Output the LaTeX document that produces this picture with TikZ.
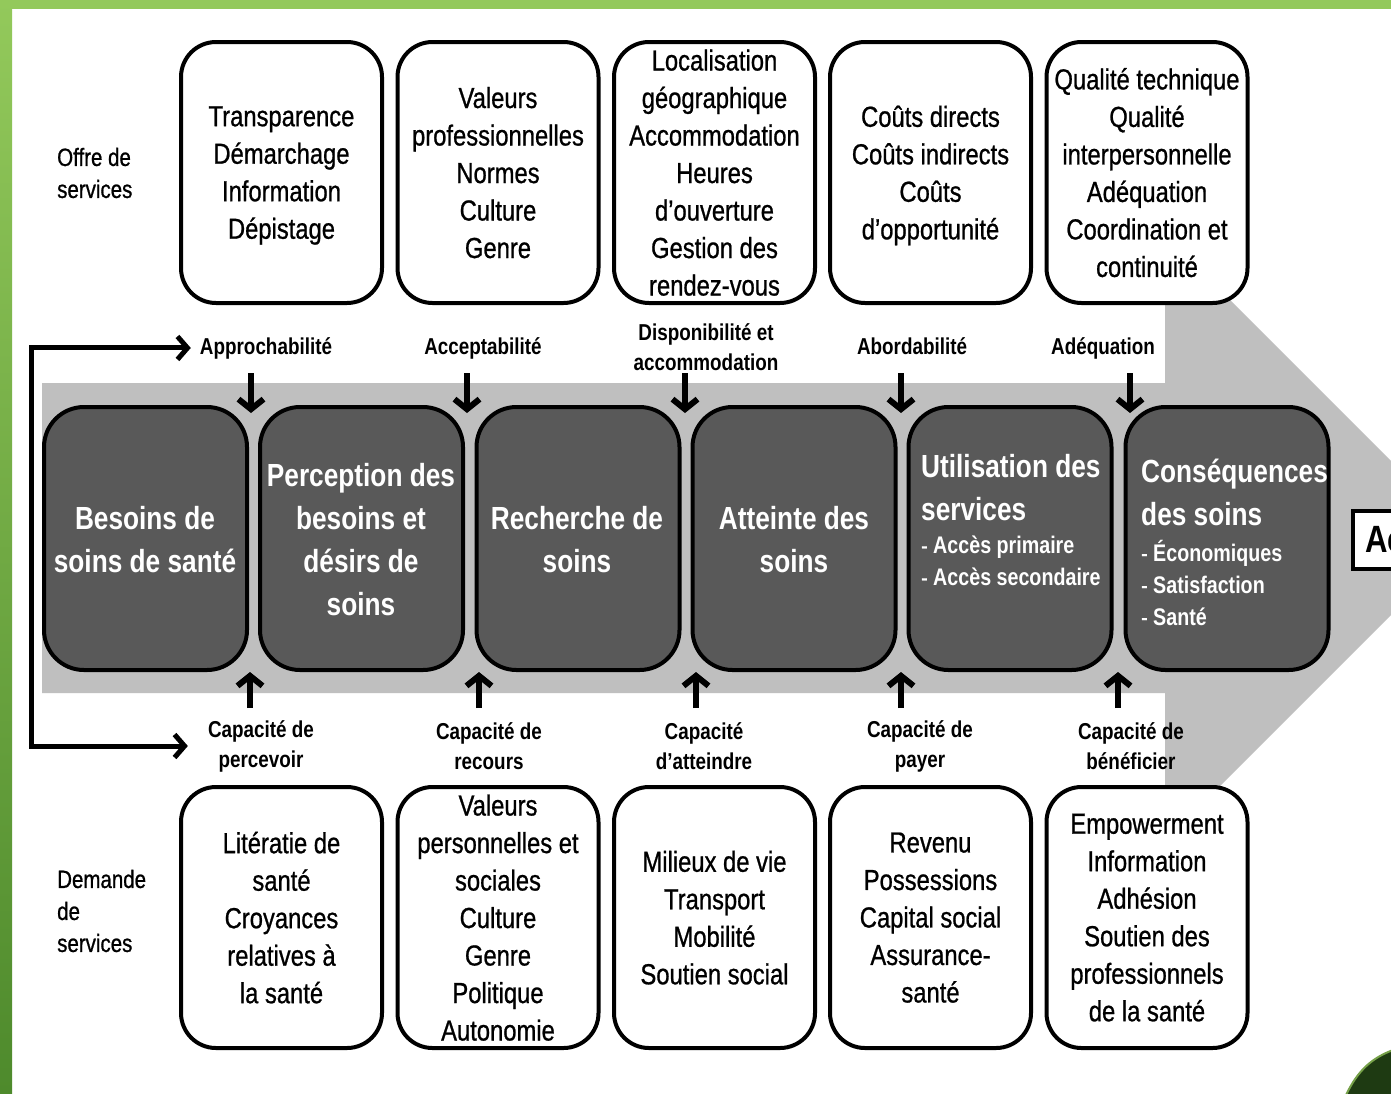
\documentclass[tikz,border=0pt]{standalone}
\usepackage{fontspec}
\setmainfont{Liberation Sans}[FakeStretch=0.82, UprightFeatures={FakeBold=0.8}]
\usetikzlibrary{arrows.meta}
\definecolor{stggray}{HTML}{595959}
\definecolor{bandgray}{HTML}{BFBFBF}
\definecolor{greenlight}{HTML}{93C95B}
\definecolor{greendark}{HTML}{4E8A2C}
\definecolor{greendeep}{HTML}{1E3A12}
\newcommand\boxfont{\fontsize{29}{37.5}\selectfont}
\newcommand\stgfont{\fontsize{32}{43}\selectfont\bfseries}
\newcommand\itemfont{\fontsize{24}{32}\selectfont\bfseries}
\newcommand\labfont{\fontsize{23}{30}\selectfont\bfseries}
\newcommand\sidefont{\fontsize{25}{32}\selectfont}
\begin{document}
\begin{tikzpicture}[x=1pt, y=-1pt,
  offbox/.style={draw, line width=4pt, rounded corners=35pt, fill=white, minimum width=201pt, minimum height=261pt, align=center, font=\boxfont, inner sep=0pt, text depth=0pt},
  stgbox/.style={draw, line width=4pt, rounded corners=40pt, fill=stggray, minimum width=203pt, minimum height=263pt},
  stgtext/.style={text=white, font=\stgfont, align=center, inner sep=0pt},
  stgitem/.style={text=white, font=\itemfont, align=left, inner sep=0pt, anchor=west},
  lab/.style={font=\labfont, align=center, inner sep=0pt},
  side/.style={font=\sidefont, align=left, inner sep=0pt, anchor=west},
  darr/.style={line width=6pt, -{Straight Barb[length=10pt, width=25pt]}},
  farr/.style={line width=5pt, -{Straight Barb[length=10pt, width=23pt]}}]
\useasboundingbox (0,0) rectangle (1391,1093);
\clip (0,0) rectangle (1391,1093);
\fill[white] (0,0) rectangle (1391,1093);
% green frame
\fill[greenlight] (0,0) rectangle (1391,9);
\shade[top color=greenlight, bottom color=greendark] (0,0) rectangle (12,1093);
\fill[greendeep, draw=greenlight!80!black, line width=2pt] (1346,1095) .. controls (1358,1070) and (1372,1058) .. (1393,1050) -- (1393,1095) -- cycle;
% band
\fill[bandgray] (42,383) -- (1165,383) -- (1165,235) -- (1468,538) -- (1165,841) -- (1165,693) -- (42,693) -- cycle;
\node[draw, line width=4pt, fill=white, anchor=west, minimum height=58pt, inner xsep=12pt, font=\fontsize{38}{40}\selectfont\bfseries] (acc) at (1351,540) {Ac};
% stages
\node[stgbox] (stg1) at (145.5,538.5){};
\node[stgbox] (stg2) at (361.5,538.5){};
\node[stgbox] (stg3) at (578,538.5){};
\node[stgbox] (stg4) at (794,538.5){};
\node[stgbox] (stg5) at (1010,538.5){};
\node[stgbox] (stg6) at (1227,538.5){};
\node[stgtext] (stg1t) at (145,540){Besoins de\\soins de santé};
\node[stgtext] (stg2t) at (361,540){Perception des\\besoins et\\désirs de\\soins};
\node[stgtext] (stg3t) at (577,540){Recherche de\\soins};
\node[stgtext] (stg4t) at (794,540){Atteinte des\\soins};
\node[stgtext, align=left, anchor=west] (stg5t) at (921,487.5){Utilisation des\\services};
\node[stgitem] (stg5i) at (921,561){{\mdseries -} Accès primaire\\{\mdseries -} Accès secondaire};
\node[stgtext, align=left, anchor=west] (stg6t) at (1141,492.5){Conséquences\\des soins};
\node[stgitem] (stg6i) at (1141,583){{\mdseries -} Économiques\\{\mdseries -} Satisfaction\\{\mdseries -} Santé};
% supply side
\node[offbox] (off1) at (281.5,172.5){Transparence\\Démarchage\\Information\\Dépistage};
\node[offbox] (off2) at (498,172.5){Valeurs\\professionnelles\\Normes\\Culture\\Genre};
\node[offbox] (off3) at (714.5,172.5){Localisation\\géographique\\Accommodation\\Heures\\d’ouverture\\Gestion des\\rendez-vous};
\node[offbox] (off4) at (930.5,172.5){Coûts directs\\Coûts indirects\\Coûts\\d’opportunité};
\node[offbox] (off5) at (1147,172.5){Qualité technique\\Qualité\\interpersonnelle\\Adéquation\\Coordination et\\continuité};
% demand side
\node[offbox] (dem1) at (281.5,917.5){Litératie de\\santé\\Croyances\\relatives à\\la santé};
\node[offbox] (dem2) at (498,917.5){Valeurs\\personnelles et\\sociales\\Culture\\Genre\\Politique\\Autonomie};
\node[offbox] (dem3) at (714.5,917.5){Milieux de vie\\Transport\\Mobilité\\Soutien social};
\node[offbox] (dem4) at (930.5,917.5){Revenu\\Possessions\\Capital social\\Assurance-\\santé};
\node[offbox] (dem5) at (1147,917.5){Empowerment\\Information\\Adhésion\\Soutien des\\professionnels\\de la santé};
\node[side] (offl) at (57,173){Offre de\\services};
\node[side] (deml) at (57,911){Demande\\de\\services};
% dimensions
\node[lab, anchor=base] (lab1) at (266,354){Approchabilité};
\node[lab, anchor=base] (lab2) at (483,354){Acceptabilité};
\node[lab] (lab3) at (706,347){Disponibilité et\\accommodation};
\node[lab, anchor=base] (lab4) at (912,354){Abordabilité};
\node[lab, anchor=base] (lab5) at (1103,354){Adéquation};
\node[lab] (blab1) at (261,746){Capacité de\\percevoir};
\node[lab] (blab2) at (489,746){Capacité de\\recours};
\node[lab] (blab3) at (704,746){Capacité\\d’atteindre};
\node[lab] (blab4) at (920,746){Capacité de\\payer};
\node[lab] (blab5) at (1131,746){Capacité de\\bénéficier};
\coordinate (dn1) at (251,373);
\coordinate (dn2) at (467,373);
\coordinate (dn3) at (685,373);
\coordinate (dn4) at (901,373);
\coordinate (dn5) at (1130,373);
\draw[darr, shorten >=-8pt] (dn1) -- (dn1 |- stg1.north);
\draw[darr, shorten >=-8pt] (dn2) -- (dn2 |- stg2.north);
\draw[darr, shorten >=-8pt] (dn3) -- (dn3 |- stg3.north);
\draw[darr, shorten >=-8pt] (dn4) -- (dn4 |- stg4.north);
\draw[darr, shorten >=-8pt] (dn5) -- (dn5 |- stg5.north);
\coordinate (up1) at (250,708);
\coordinate (up2) at (479,708);
\coordinate (up3) at (696,708);
\coordinate (up4) at (901,708);
\coordinate (up5) at (1118,708);
\draw[darr] (up1) -- (up1 |- stg1.south);
\draw[darr] (up2) -- (up2 |- stg2.south);
\draw[darr] (up3) -- (up3 |- stg3.south);
\draw[darr] (up4) -- (up4 |- stg4.south);
\draw[darr] (up5) -- (up5 |- stg5.south);
% feedback
\coordinate (fbm) at (31,546);
\draw[farr, shorten >=9pt] (fbm) |- (lab1.west);
\draw[farr, shorten >=20pt] (fbm) |- (blab1.west);
\end{tikzpicture}
\end{document}
